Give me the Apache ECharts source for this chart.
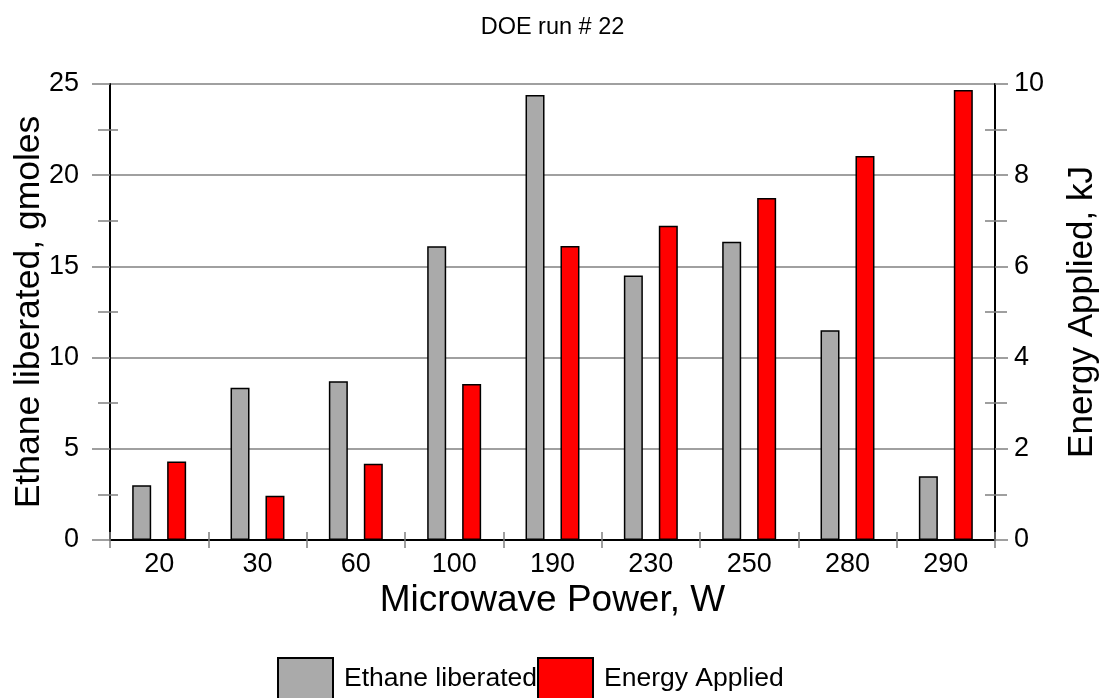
<!DOCTYPE html>
<html>
<head>
<meta charset="utf-8">
<script src="https://cdn.jsdelivr.net/npm/echarts@6/dist/echarts.min.js"></script>
<style>
  html, body { margin: 0; padding: 0; background: #ffffff; }
  #chart { width: 1105px; height: 698px; }
</style>
</head>
<body>
<div id="chart"></div>
<script>
// Microwave power settings (W)
const categories = ['20', '30', '60', '100', '190', '230', '250', '280', '290'];
// Ethane liberated (gmoles), left axis
const ethaneLiberated = [3.0, 8.35, 8.7, 16.1, 24.4, 14.5, 16.35, 11.5, 3.5];
// Energy applied (kJ), right axis
const energyApplied = [1.72, 0.97, 1.67, 3.42, 6.45, 6.89, 7.5, 8.42, 9.87];

const FONT = '"Liberation Sans", Arial, sans-serif';
const GRID_GRAY = '#808080';

const chart = echarts.init(document.getElementById('chart'), null, { renderer: 'canvas' });

chart.setOption({
  animation: false,
  backgroundColor: '#ffffff',
  textStyle: { fontFamily: FONT, color: '#000' },
  title: {
    text: 'DOE run # 22',
    left: 'center',
    top: 11,
    textStyle: { fontFamily: FONT, fontSize: 23.5, fontWeight: 'normal', color: '#000' }
  },
  grid: { left: 110, right: 110, top: 84, bottom: 158, containLabel: false, outerBoundsMode: 'none' },
  legend: {
    left: 277,
    top: 657,
    padding: 0,
    itemWidth: 55,
    itemHeight: 42,
    itemGap: 0,
    icon: 'rect',
    textStyle: { fontFamily: FONT, fontSize: 26.5, color: '#000', padding: [0, 0, 0, 6] },
    data: ['Ethane liberated', 'Energy Applied']
  },
  xAxis: [
    {
      type: 'category',
      position: 'bottom',
      data: categories,
      name: 'Microwave Power, W',
      nameLocation: 'middle',
      nameGap: 42,
      nameMoveOverlap: false,
      nameTextStyle: { fontFamily: FONT, fontSize: 37, color: '#000' },
      axisLine: { lineStyle: { color: '#000', width: 2 } },
      axisTick: { show: true, length: 8, lineStyle: { color: GRID_GRAY, width: 1.5 } },
      axisLabel: { fontFamily: FONT, fontSize: 27, color: '#000', margin: 11 }
    },
    {
      // inward half of the crossing category ticks
      type: 'category',
      position: 'bottom',
      data: categories,
      axisLine: { show: false },
      axisTick: { show: true, inside: true, length: 8, lineStyle: { color: GRID_GRAY, width: 1.5 } },
      axisLabel: { show: false }
    },
    {
      // top frame line
      type: 'category',
      position: 'top',
      data: categories,
      axisLine: { lineStyle: { color: '#000', width: 2 } },
      axisTick: { show: false },
      axisLabel: { show: false }
    }
  ],
  yAxis: [
    {
      type: 'value',
      position: 'left',
      min: 0, max: 25, interval: 5,
      name: 'Ethane liberated, gmoles',
      nameLocation: 'middle',
      nameGap: 63,
      nameMoveOverlap: false,
      nameTextStyle: { fontFamily: FONT, fontSize: 35.5, color: '#000' },
      axisLine: { show: true, lineStyle: { color: '#000', width: 2 } },
      axisTick: { show: true, length: 18, lineStyle: { color: GRID_GRAY, width: 1.5 } },
      minorTick: { show: true, splitNumber: 2, length: 12, lineStyle: { color: GRID_GRAY, width: 1.5 } },
      axisLabel: { fontFamily: FONT, fontSize: 27, color: '#000', margin: 31 },
      splitLine: { show: true, lineStyle: { color: GRID_GRAY, width: 1.5 } }
    },
    {
      // inward half of the left minor ticks
      type: 'value',
      position: 'left',
      min: 0, max: 25, interval: 5,
      axisLine: { show: false },
      axisTick: { show: true, inside: true, length: 0 },
      minorTick: { show: true, splitNumber: 2, length: 8, lineStyle: { color: GRID_GRAY, width: 1.5 } },
      axisLabel: { show: false },
      splitLine: { show: false }
    },
    {
      type: 'value',
      position: 'right',
      min: 0, max: 10, interval: 2,
      name: 'Energy Applied, kJ',
      nameLocation: 'middle',
      nameGap: 70,
      nameMoveOverlap: false,
      nameTextStyle: { fontFamily: FONT, fontSize: 35, color: '#000' },
      axisLine: { show: true, lineStyle: { color: '#000', width: 2 } },
      axisTick: { show: true, length: 13, lineStyle: { color: GRID_GRAY, width: 1.5 } },
      minorTick: { show: true, splitNumber: 2, length: 12, lineStyle: { color: GRID_GRAY, width: 1.5 } },
      axisLabel: { fontFamily: FONT, fontSize: 27, color: '#000', margin: 19 },
      splitLine: { show: false }
    },
    {
      // inward half of the right minor ticks
      type: 'value',
      position: 'right',
      min: 0, max: 10, interval: 2,
      axisLine: { show: false },
      axisTick: { show: true, inside: true, length: 0 },
      minorTick: { show: true, splitNumber: 2, length: 10, lineStyle: { color: GRID_GRAY, width: 1.5 } },
      axisLabel: { show: false },
      splitLine: { show: false }
    }
  ],
  series: [
    {
      name: 'Ethane liberated',
      type: 'bar',
      xAxisIndex: 0,
      yAxisIndex: 0,
      data: ethaneLiberated,
      barWidth: 19,
      barGap: '84%',
      itemStyle: { color: '#aaaaaa', borderColor: '#000', borderWidth: 1.5 }
    },
    {
      name: 'Energy Applied',
      type: 'bar',
      xAxisIndex: 0,
      yAxisIndex: 2,
      data: energyApplied,
      barWidth: 19,
      barGap: '84%',
      itemStyle: { color: '#ff0000', borderColor: '#000', borderWidth: 1.5 }
    }
  ]
});
</script>
</body>
</html>
